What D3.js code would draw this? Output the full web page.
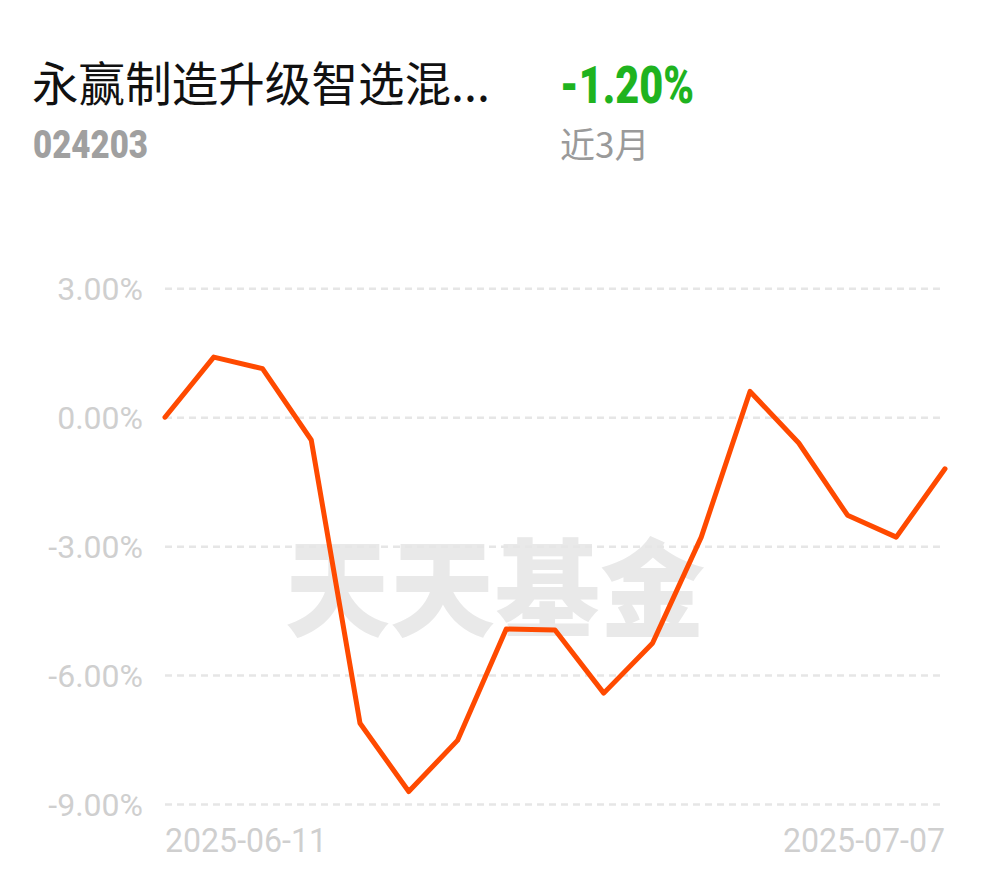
<!DOCTYPE html>
<html><head><meta charset="utf-8">
<script src="https://cdn.jsdelivr.net/npm/d3@7"></script>
<style>
html,body{margin:0;padding:0;background:#fff;}
svg{display:block;}
</style></head>
<body>
<script>
const fundName = "永赢制造升级智选混...";
const fundCode = "024203";
const periodReturn = "-1.20%";
const periodLabel = "近3月";
const watermark = "天天基金";
const pointIndex = [0,1,2,3,4,5,6,7,8,9,10,11,12,13,14,15,16];
const returns = [0.00, 1.40, 1.13, -0.53, -7.12, -8.71, -7.52, -4.93, -4.95, -6.42, -5.26, -2.79, 0.60, -0.60, -2.28, -2.79, -1.20];
const yTicks = [3, 0, -3, -6, -9];
const xTickLabels = ["2025-06-11", "2025-07-07"];

const W = 990, H = 878;
const svg = d3.select("body").append("svg").attr("width", W).attr("height", H);
svg.append("rect").attr("width", W).attr("height", H).attr("fill", "#fff");

const cjk = "'Noto Sans CJK SC', 'Noto Sans', sans-serif";
const num = "Roboto, 'Noto Sans', sans-serif";

// header
svg.append("text").attr("x", 32).attr("y", 101).attr("font-family", cjk)
  .attr("font-size", 46.5).attr("fill", "#111")
  .attr("textLength", 458).attr("lengthAdjust", "spacing").text(fundName);
svg.append("text").attr("x", 33).attr("y", 158).attr("font-family", num)
  .attr("font-weight", 900).attr("font-size", 39).attr("fill", "#a0a0a0")
  .attr("textLength", 115).attr("lengthAdjust", "spacingAndGlyphs").text(fundCode);
svg.append("text").attr("x", 560).attr("y", 103).attr("font-family", num)
  .attr("font-weight", 900).attr("font-size", 51).attr("fill", "#1fb31f")
  .attr("textLength", 134).attr("lengthAdjust", "spacingAndGlyphs").text(periodReturn);
svg.append("text").attr("x", 560).attr("y", 158).attr("font-family", cjk)
  .attr("font-size", 35).attr("fill", "#9a9a9a").text(periodLabel);

// scales
const x = d3.scalePoint().domain(pointIndex).range([165, 945]);
const y = d3.scaleLinear().domain([-9, 3]).range([804, 288.3]);

// watermark
svg.append("text").attr("x", 285).attr("y", 628).attr("font-family", cjk)
  .attr("font-weight", 900).attr("font-size", 106).attr("fill", "#e9e9e9")
  .attr("textLength", 420).attr("lengthAdjust", "spacingAndGlyphs").text(watermark);

// grid via axis
const yAxis = d3.axisLeft(y).tickValues(yTicks).tickSize(-(940 - 165)).tickPadding(22)
  .tickFormat(d => d.toFixed(2) + "%");
const gy = svg.append("g").attr("transform", "translate(165,0)").call(yAxis);
gy.select(".domain").remove();
gy.selectAll(".tick line").attr("stroke", "#e6e6e6").attr("stroke-width", 2.5)
  .attr("stroke-dasharray", "7,5");
gy.selectAll(".tick text").attr("font-family", num).attr("font-size", 32)
  .attr("fill", "#cfcfcf").attr("dy", "0.36em");

// x labels
const xLab = [{i: pointIndex[0], t: xTickLabels[0], a: "start"},
              {i: pointIndex[pointIndex.length - 1], t: xTickLabels[1], a: "end"}];
svg.selectAll(".xl").data(xLab).enter().append("text")
  .attr("x", d => x(d.i)).attr("y", 852).attr("text-anchor", d => d.a)
  .attr("font-family", num).attr("font-size", 34).attr("fill", "#cfcfcf")
  .attr("textLength", 162).attr("lengthAdjust", "spacingAndGlyphs").text(d => d.t);

// line
const line = d3.line().x((d, i) => x(pointIndex[i])).y(d => y(d));
svg.append("path").datum(returns).attr("d", line).attr("fill", "none")
  .attr("stroke", "#ff4a00").attr("stroke-width", 5)
  .attr("stroke-linejoin", "round").attr("stroke-linecap", "round");
</script>
</body></html>
